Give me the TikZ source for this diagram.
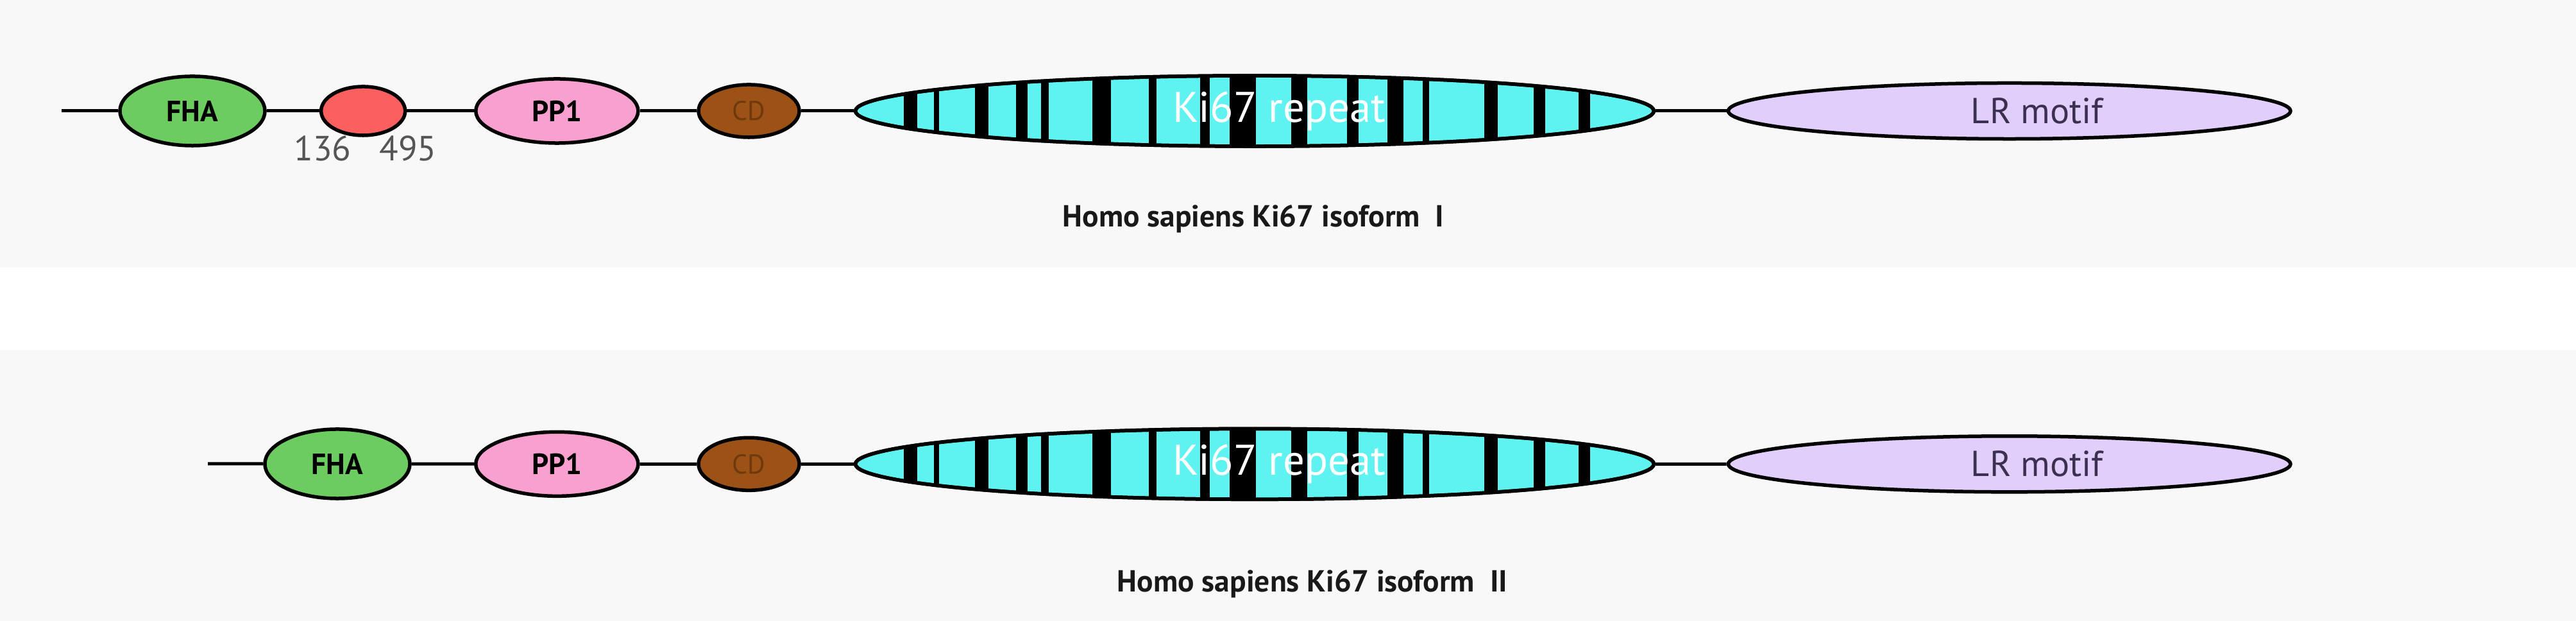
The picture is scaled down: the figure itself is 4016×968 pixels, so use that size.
\documentclass[tikz,border=0pt]{standalone}
\usepackage{fontspec}
\setmainfont{PT Sans}
\usetikzlibrary{shapes.geometric}
\definecolor{fhagreen}{RGB}{108,204,96}
\definecolor{sitered}{RGB}{250,96,96}
\definecolor{pppink}{RGB}{248,160,208}
\definecolor{cdbrown}{RGB}{155,82,20}
\definecolor{cdtext}{RGB}{112,56,12}
\definecolor{kicyan}{RGB}{94,242,240}
\definecolor{lrlilac}{RGB}{226,206,250}
\definecolor{lrtext}{RGB}{60,48,80}
\definecolor{panelgray}{RGB}{248,248,248}
\definecolor{numgray}{RGB}{85,85,85}
\tikzstyle{dom} = [ellipse, draw=black, line width=0.055cm, inner sep=0pt, text centered]
\tikzstyle{fha} = [dom, minimum width=2.26cm, minimum height=1.08cm, fill=fhagreen, font=\fontsize{13}{13}\selectfont\bfseries]
\tikzstyle{site} = [dom, minimum width=1.31cm, minimum height=0.76cm, fill=sitered]
\tikzstyle{pp} = [dom, minimum width=2.53cm, minimum height=1.0cm, fill=pppink, font=\fontsize{13}{13}\selectfont\bfseries]
\tikzstyle{cd} = [dom, minimum width=1.57cm, minimum height=0.82cm, fill=cdbrown, text=cdtext, font=\fontsize{12}{12}\selectfont]
\tikzstyle{kirepeat} = [dom, minimum width=12.44cm, minimum height=1.10cm, fill=kicyan]
\tikzstyle{kitext} = [inner sep=0pt, text=white, font=\fontsize{19}{19}\selectfont]
\tikzstyle{lr} = [dom, minimum width=8.76cm, minimum height=0.87cm, fill=lrlilac]
\tikzstyle{lrtxt} = [inner sep=0pt, text=lrtext, font=\fontsize{16}{16}\selectfont]
\tikzstyle{num} = [inner sep=0pt, text=numgray, font=\fontsize{15.5}{15.5}\selectfont]
\tikzstyle{isotitle} = [inner sep=0pt, text=black!90, font=\fontsize{13.5}{13.5}\selectfont\bfseries]
\tikzstyle{bar} = [line width=0.05cm]

\begin{document}
\begin{tikzpicture}[x=0.01cm, y=-0.01cm, node distance=1cm]
				\fill[white] (0,0) rectangle (4016,968);
				\fill[panelgray] (0,0) rectangle (4016,417);
				\fill[panelgray] (0,546) rectangle (4016,968);
				\useasboundingbox (0,0) rectangle (4016,968);
				
				% isoform I
				\coordinate (start1) at (96,173);
				\node(fha1) [fha] at (300,173) {FHA};
				\node(site1) [site, right of=fha1, xshift=1.66cm] {};
				\node(pp1a) [pp, right of=site1, xshift=2.02cm] {PP1};
				\node(cd1) [cd, right of=pp1a, xshift=1.99cm] {CD};
				\node(ki1) [kirepeat, right of=cd1, xshift=6.88cm] {};
				\node(lr1) [lr, right of=ki1, xshift=10.76cm] {};
				\node(from1) [num] at (503,231) {136};
				\node(to1) [num] at (636,231) {495};
				\node(title1) [isotitle] at (1954,341) {Homo sapiens Ki67 isoform\ \ I};
				
				% isoform II
				\coordinate (start2) at (324,723);
				\node(fha2) [fha] at (526,723) {FHA};
				\node(pp2) [pp, below of=pp1a, yshift=-4.5cm] {PP1};
				\node(cd2) [cd, below of=cd1, yshift=-4.5cm] {CD};
				\node(ki2) [kirepeat, below of=ki1, yshift=-4.5cm] {};
				\node(lr2) [lr, below of=lr1, yshift=-4.5cm] {};
				\node(title2) [isotitle] at (2046,910) {Homo sapiens Ki67 isoform\ \ II};
				
				\draw[bar] (start1) -- (fha1) -- (site1) -- (pp1a) -- (cd1) -- (ki1) -- (lr1);
				\draw[bar] (start2) -- (fha2) -- (pp2) -- (cd2) -- (ki2) -- (lr2);
				
				% motif labels, set right of centre
				\node(lab1) [lrtxt] at ([xshift=0.43cm]lr1.center) {LR motif};
				\node(lab2) [lrtxt] at ([xshift=0.43cm]lr2.center) {LR motif};
				
				% repeat stripes
				\foreach \k in {ki1,ki2}{
					\begin{scope}[shift={(\k.center)}]
						\clip (0,0) ellipse (6.22cm and 0.55cm);
						\foreach \sx/\sw in {-536/21,-496/8,-425/21,-363/18,-327/12,-238/29,-159/12,-77/15,-18/41,70/25,153/18,220/25,267/10,369/21,444/18,514/18}
							\fill (\sx-\sw/2,-60) rectangle (\sx+\sw/2,60);
					\end{scope}
					\draw[line width=0.055cm] (\k.center) ellipse (6.22cm and 0.55cm);
					\node(lab\k) [kitext] at ([xshift=0.38cm]\k.center) {Ki67 repeat};
				}
			\end{tikzpicture}
\end{document}
